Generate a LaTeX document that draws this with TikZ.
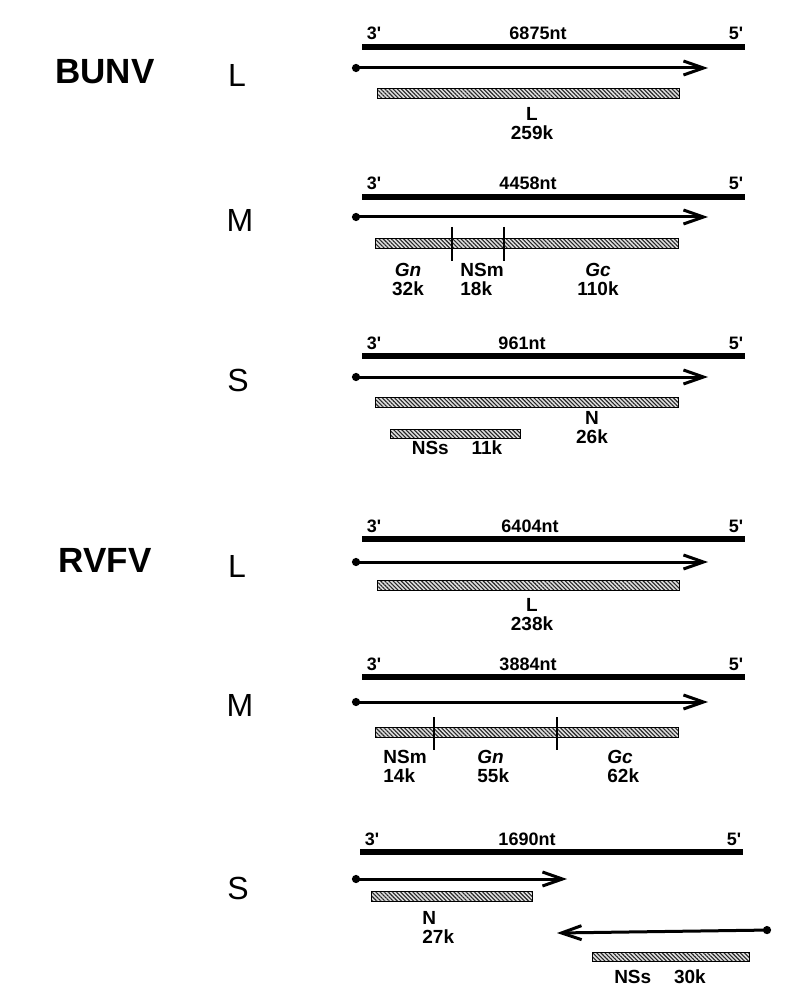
\documentclass[tikz,border=0pt]{standalone}
\usepackage{fontspec}
\setmainfont{Liberation Sans}
\usetikzlibrary{calc,patterns.meta,arrows.meta}

\begin{document}
\begin{tikzpicture}[x=0.5pt, y=-0.5pt,
        virus/.style={font=\fontsize{17.5}{20}\selectfont\bfseries},
        seg/.style={font=\fontsize{16}{18}\selectfont},
        lbl/.style={font=\fontsize{9}{10}\selectfont\bfseries, inner sep=0pt},
        prot/.style={font=\fontsize{9.5}{9.5}\selectfont\bfseries, inner sep=0pt},
        rna/.style={line width=3pt},
        orf/.style={line width=1.5pt, {Circle[length=4pt]}-{Straight Barb[length=10pt,width=7pt,line width=1.5pt]}},
        bar/.style={draw, line width=0.5pt, preaction={fill=black!12}, pattern={Lines[angle=-45,distance=1.45pt,line width=0.55pt]}, pattern color=black!85},
        cut/.style={line width=0.6pt}]
    \useasboundingbox (0,0) rectangle (805,1000);

    \node [virus] (bunv) at (105,72) {BUNV};
    \node [seg] (bunvL) at (237,75) {L};
    \coordinate (bl3) at (362,47);
    \coordinate (bl5) at (745,47);
    \draw [rna] (bl3) -- (bl5);
    \node [lbl, anchor=base] (bl3t) at ($(bl3)+(12,-7)$) {3\textquotesingle};
    \node [lbl, anchor=base] (bl5t) at ($(bl5)+(-9,-7)$) {5\textquotesingle};
    \node [lbl, anchor=base] (blnt) at ($(bl3)+(176,-7)$) {6875nt};
    \coordinate (blo) at (352,68);
    \coordinate (bloe) at (708,68);
    \draw [orf] (blo) -- (bloe);
    \draw [bar] (377,89) rectangle (679,99);
    \node [prot, align=center] (blp) at (532,124) {L\\259k};

    \node [seg] (bunvM) at (240,220) {M};
    \coordinate (bm3) at (362,197);
    \coordinate (bm5) at (745,197);
    \draw [rna] (bm3) -- (bm5);
    \node [lbl, anchor=base] (bm3t) at ($(bm3)+(12,-7)$) {3\textquotesingle};
    \node [lbl, anchor=base] (bm5t) at ($(bm5)+(-9,-7)$) {5\textquotesingle};
    \node [lbl, anchor=base] (bmnt) at ($(bm3)+(166,-7)$) {4458nt};
    \coordinate (bmo) at (352,217);
    \coordinate (bmoe) at (708,217);
    \draw [orf] (bmo) -- (bmoe);
    \draw [bar] (375,238) rectangle (678,248);
    \draw [cut] (452,227) -- (452,261);
    \draw [cut] (504,227) -- (504,261);
    \node [prot, align=center] (bmgn) at (408,279) {\itshape Gn\\32k};
    \node [prot, align=left, anchor=west] (bmnsm) at (460,279) {NSm\\18k};
    \node [prot, align=center] (bmgc) at (598,279) {\itshape Gc\\110k};

    \node [seg] (bunvS) at (238,380) {S};
    \coordinate (bs3) at (362,356);
    \coordinate (bs5) at (745,356);
    \draw [rna] (bs3) -- (bs5);
    \node [lbl, anchor=base] (bs3t) at ($(bs3)+(12,-7)$) {3\textquotesingle};
    \node [lbl, anchor=base] (bs5t) at ($(bs5)+(-9,-7)$) {5\textquotesingle};
    \node [lbl, anchor=base] (bsnt) at ($(bs3)+(160,-7)$) {961nt};
    \coordinate (bso) at (352,377);
    \coordinate (bsoe) at (708,377);
    \draw [orf] (bso) -- (bsoe);
    \draw [bar] (375,397) rectangle (678,407);
    \draw [bar] (390,429) rectangle (520,438);
    \node [prot, align=center] (bsn) at (592,428) {N\\26k};
    \node [prot] (bsns) at (457,448) {NSs\hspace{1.2em}11k};

    \node [virus] (rvfv) at (105,560) {RVFV};
    \node [seg] (rvfvL) at (237,566) {L};
    \coordinate (rl3) at (362,539);
    \coordinate (rl5) at (745,539);
    \draw [rna] (rl3) -- (rl5);
    \node [lbl, anchor=base] (rl3t) at ($(rl3)+(12,-7)$) {3\textquotesingle};
    \node [lbl, anchor=base] (rl5t) at ($(rl5)+(-9,-7)$) {5\textquotesingle};
    \node [lbl, anchor=base] (rlnt) at ($(rl3)+(168,-7)$) {6404nt};
    \coordinate (rlo) at (352,562);
    \coordinate (rloe) at (708,562);
    \draw [orf] (rlo) -- (rloe);
    \draw [bar] (377,580) rectangle (679,590);
    \node [prot, align=center] (rlp) at (532,615) {L\\238k};

    \node [seg] (rvfvM) at (240,705) {M};
    \coordinate (rm3) at (362,677);
    \coordinate (rm5) at (745,677);
    \draw [rna] (rm3) -- (rm5);
    \node [lbl, anchor=base] (rm3t) at ($(rm3)+(12,-7)$) {3\textquotesingle};
    \node [lbl, anchor=base] (rm5t) at ($(rm5)+(-9,-7)$) {5\textquotesingle};
    \node [lbl, anchor=base] (rmnt) at ($(rm3)+(166,-7)$) {3884nt};
    \coordinate (rmo) at (352,702);
    \coordinate (rmoe) at (708,702);
    \draw [orf] (rmo) -- (rmoe);
    \draw [bar] (375,727) rectangle (678,737);
    \draw [cut] (434,717) -- (434,750);
    \draw [cut] (557,717) -- (557,750);
    \node [prot, align=left, anchor=west] (rmnsm) at (383,766) {NSm\\14k};
    \node [prot, align=left, anchor=west] (rmgn) at (477,766) {\itshape Gn\\55k};
    \node [prot, align=left, anchor=west] (rmgc) at (607,766) {\itshape Gc\\62k};

    \node [seg] (rvfvS) at (238,888) {S};
    \coordinate (rs3) at (360,852);
    \coordinate (rs5) at (743,852);
    \draw [rna] (rs3) -- (rs5);
    \node [lbl, anchor=base] (rs3t) at ($(rs3)+(12,-7)$) {3\textquotesingle};
    \node [lbl, anchor=base] (rs5t) at ($(rs5)+(-9,-7)$) {5\textquotesingle};
    \node [lbl, anchor=base] (rsnt) at ($(rs3)+(167,-7)$) {1690nt};
    \coordinate (rso) at (352,879);
    \coordinate (rsoe) at (567,879);
    \draw [orf] (rso) -- (rsoe);
    \draw [bar] (371,891) rectangle (532,901);
    \node [prot, align=left, anchor=west] (rsn) at (422,927) {N\\27k};
    \coordinate (rsa) at (771,930);
    \coordinate (rsae) at (557,933);
    \draw [orf] (rsa) -- (rsae);
    \draw [bar] (592,952) rectangle (749,961);
    \node [prot] (rsns) at (660,977) {NSs\hspace{1.2em}30k};
\end{tikzpicture}
\end{document}
